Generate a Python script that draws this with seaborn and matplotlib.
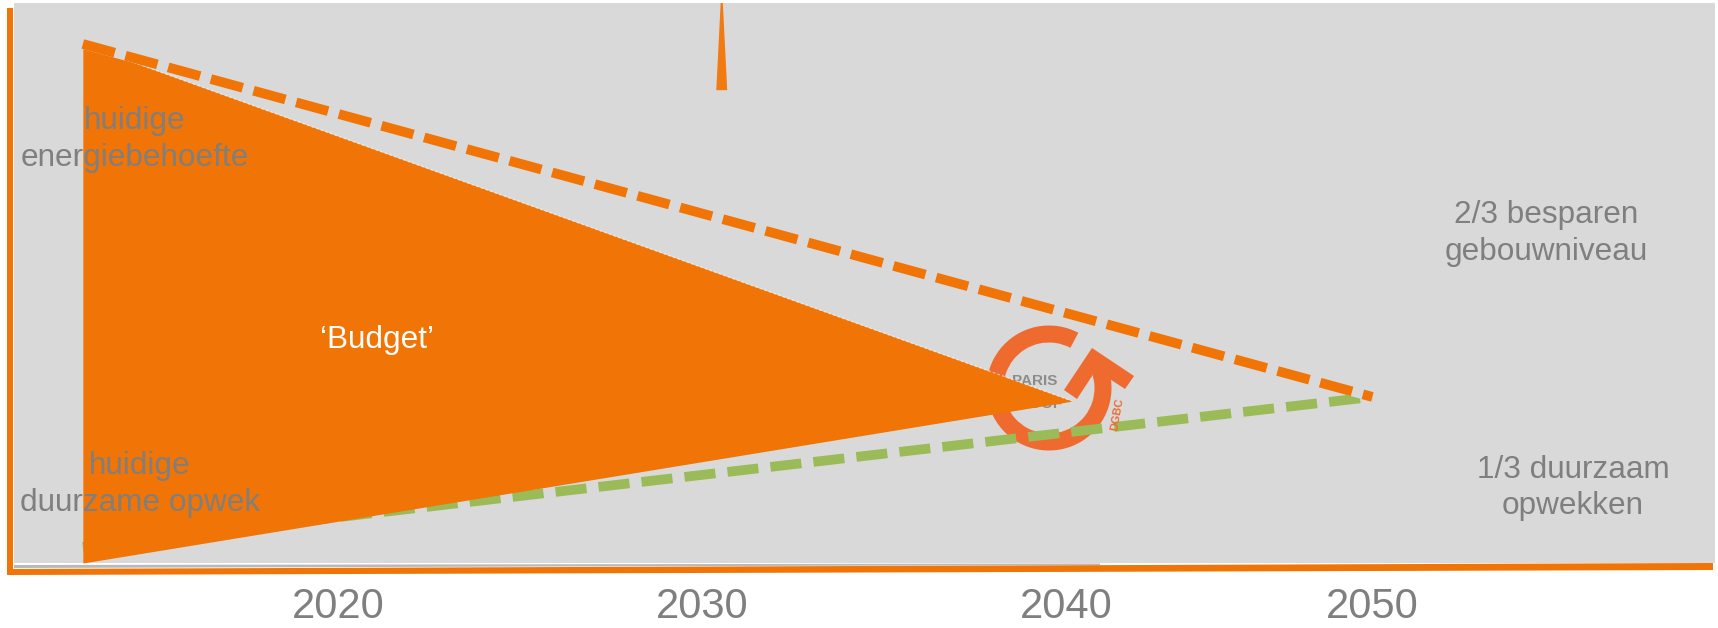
import numpy as np
import pandas as pd
import matplotlib
matplotlib.use("Agg")
import matplotlib.pyplot as plt
from matplotlib.patches import Wedge, Polygon, Rectangle
from matplotlib.transforms import Affine2D
import seaborn as sns

# --- data -------------------------------------------------------------
tick_years = [2020, 2030, 2040, 2050]
tick_labels = ["2020", "2030", "2040", "2050"]

# energy demand path (dashed orange) and renewable generation path (dashed green)
path_years = [2013, 2050]
demand = [100.0, 32.0]
renewable = [3.1, 32.0]

# remaining energy 'budget' wedge
budget_years = [2013, 2040.2]
budget_upper = [100.0, 31.2]
budget_lower = [0.0, 31.2]

# small marker spike near the top
spike_years = [2030.51, 2030.57, 2030.69, 2030.39]
spike_levels = [107.9, 107.9, 91.1, 91.1]

ORANGE = "#F07406"
GREEN = "#9BBB59"
GREY_BG = "#D9D9D9"
GREY_TXT = "#7F7F7F"
LOGO = "#EE6A2F"

sns.set_style("white")
plt.rcParams["font.family"] = ["Liberation Sans", "DejaVu Sans"]

W, H = 1718, 628
fig = plt.figure(figsize=(W / 100, H / 100), dpi=100)
fig.patch.set_facecolor("white")

ax = fig.add_axes([14 / W, (H - 563) / H, 1701 / W, 560 / H])
ax.set_facecolor(GREY_BG)

# the last stretch of the time axis is drawn compressed
SQUEEZE = 0.84

def _fwd(x):
    x = np.asarray(x, dtype=float)
    return np.where(x <= 2040, x, 2040 + (x - 2040) * SQUEEZE)

def _inv(u):
    u = np.asarray(u, dtype=float)
    return np.where(u <= 2040, u, 2040 + (u - 2040) / SQUEEZE)

ax.set_xscale("function", functions=(_fwd, _inv))
ax.set_xlim(2011.11, 2061.2)
ax.set_ylim(0, 107.9)

df = pd.DataFrame({"year": path_years, "demand": demand, "renewable": renewable})

# green renewable path
sns.lineplot(data=df, x="year", y="renewable", color=GREEN, linewidth=7.0,
             ax=ax, zorder=3)
ax.lines[-1].set_dashes((3.2, 1.25))
ax.lines[-1].set_dash_capstyle("butt")

# budget wedge
ax.fill_between(budget_years, budget_lower, budget_upper, color=ORANGE,
                linewidth=0, zorder=4)
ax.plot(budget_years, budget_upper, color="white", lw=1.0, alpha=0.5,
        dashes=(2, 1.5), zorder=4.2)

# demand path: grey under-stroke then orange dashes
sns.lineplot(data=df, x="year", y="demand", color=GREY_BG, linewidth=7.0,
             ax=ax, zorder=4.5)
ax.lines[-1].set_solid_capstyle("butt")
sns.lineplot(data=df, x="year", y="demand", color=ORANGE, linewidth=7.0,
             ax=ax, zorder=5)
ax.lines[-1].set_dashes((3.4, 1.15))
ax.lines[-1].set_dash_capstyle("butt")

# spike at the top
ax.fill(spike_years, spike_levels, color="#F27A12", linewidth=0, zorder=5)

# logo: circular arrow with text
logo_tr = Affine2D().translate(10.49, (H - 388) / 100) + fig.dpi_scale_trans
ax.add_patch(Wedge((0, 0), 0.625, 62, 382, width=0.17, color=LOGO,
                   transform=logo_tr, zorder=2, linewidth=0))
ax.add_patch(Polygon([(0.43, 0.40), (0.85, 0.12), (0.76, -0.01), (0.47, 0.18),
                      (0.28, -0.11), (0.15, -0.02)], closed=True, color=LOGO,
                     transform=logo_tr, zorder=2, linewidth=0))
ax.text(0.6002, 0.325, "PARIS", transform=ax.transAxes, ha="center",
        va="center", fontsize=11, fontweight="bold", color="#8C8C8C", zorder=2.5)
ax.text(0.6002, 0.284, "PROOF", transform=ax.transAxes, ha="center",
        va="center", fontsize=11, fontweight="bold", color="#8C8C8C", zorder=2.5)
ax.text(0.6484, 0.266, "DGBC", transform=ax.transAxes, ha="center",
        va="center", fontsize=8, fontweight="bold", color=LOGO, rotation=80,
        zorder=3.5)

# annotations
txt = dict(transform=ax.transAxes, ha="center", va="center", fontsize=22.7,
           color=GREY_TXT, linespacing=1.29, zorder=7)
ax.text(0.0711, 0.756, "huidige\nenergiebehoefte", **txt)
ax.text(0.0741, 0.1405, "huidige\nduurzame opwek", **txt)
ax.text(0.901, 0.588, "2/3 besparen\ngebouwniveau", **txt)
ax.text(0.9165, 0.134, "1/3 duurzaam\nopwekken", **txt)
ax.text(0.2134, 0.398, "\u2018Budget\u2019", transform=ax.transAxes,
        ha="center", va="center", fontsize=22.7, color="white", zorder=7)

# axes styling
for s in ax.spines.values():
    s.set_visible(False)
ax.set_xlabel("")
ax.set_ylabel("")
ax.set_yticks([])
ax.set_xticks(tick_years)
ax.set_xticklabels(tick_labels)
ax.xaxis.set_minor_locator(matplotlib.ticker.NullLocator())
ax.tick_params(axis="x", length=0, pad=17.5, labelsize=30, labelcolor=GREY_TXT)

# orange frame bars and shadow line
fig.add_artist(Rectangle((7 / W, (H - 569) / H), 6 / W, 561 / H,
                         transform=fig.transFigure, color=ORANGE, lw=0))
fig.add_artist(Polygon([(7 / W, (H - 569) / H), (1713 / W, (H - 563) / H),
                        (1713 / W, (H - 570) / H), (7 / W, (H - 575) / H)],
                       closed=True, transform=fig.transFigure, color=ORANGE,
                       lw=0))
fig.add_artist(Polygon([(14 / W, (H - 565) / H), (1100 / W, (H - 563.5) / H),
                        (1100 / W, (H - 565) / H), (14 / W, (H - 568) / H)],
                       closed=True, transform=fig.transFigure, color="#A8A8A8",
                       lw=0, alpha=0.8))

fig.savefig("out.png", dpi=100)
